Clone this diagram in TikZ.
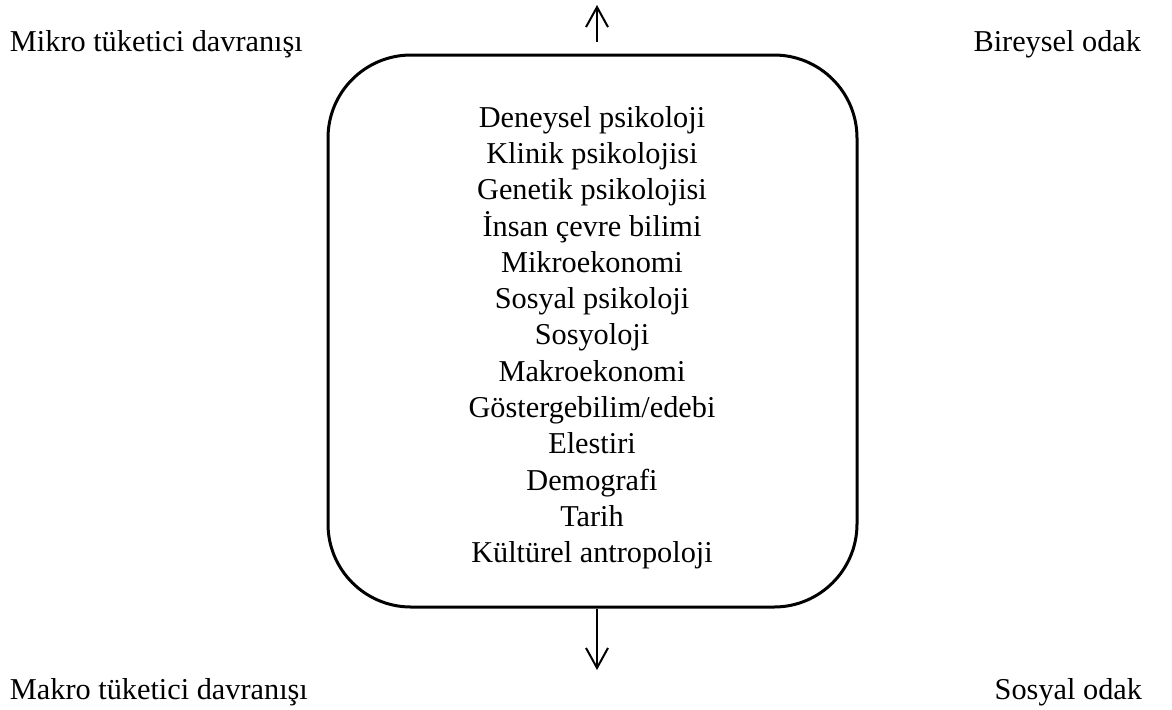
\documentclass[tikz,border=0pt]{standalone}
\usepackage{fontspec}
\setmainfont{Liberation Serif}
\usetikzlibrary{arrows.meta}
\begin{document}
\begin{tikzpicture}[x=0.5pt,y=-0.5pt,
  lbl/.style={inner sep=0pt,outer sep=0pt,font=\fontsize{15.15pt}{18.17pt}\selectfont},
  boxst/.style={draw,line width=1.5pt,rounded corners=41.5pt,minimum width=264.5pt,minimum height=276pt,inner sep=0pt},
  arr/.style={line width=1pt,-{Straight Barb[length=10pt,width=11pt,line width=1pt]}}]
\useasboundingbox (0,0) rectangle (1172,709);
\node[boxst] (box) at (592.5,331) {};
\foreach [count=\i] \t in {Deneysel psikoloji,Klinik psikolojisi,Genetik psikolojisi,İnsan çevre bilimi,Mikroekonomi,Sosyal psikoloji,Sosyoloji,Makroekonomi,Göstergebilim/edebi,Elestiri,Demografi,Tarih,Kültürel antropoloji}{
  \node[lbl,anchor=base] (t\i) at (592,{127+36.33*(\i-1)}) {\t};
}
\node[lbl,anchor=base west] (mikro) at (10,51) {Mikro tüketici davranışı};
\node[lbl,anchor=base west] (makro) at (10,699) {Makro tüketici davranışı};
\node[lbl,anchor=base east] (birey) at (1141,51) {Bireysel odak};
\node[lbl,anchor=base east] (sosyal) at (1142,699) {Sosyal odak};
\coordinate (toptip) at (597,5);
\coordinate (bottip) at (597,670);
\draw[arr] ([xshift=2.25pt,yshift=6pt]box.north) -- (toptip);
\draw[arr] ([xshift=2.25pt]box.south) -- (bottip);
\end{tikzpicture}
\end{document}
